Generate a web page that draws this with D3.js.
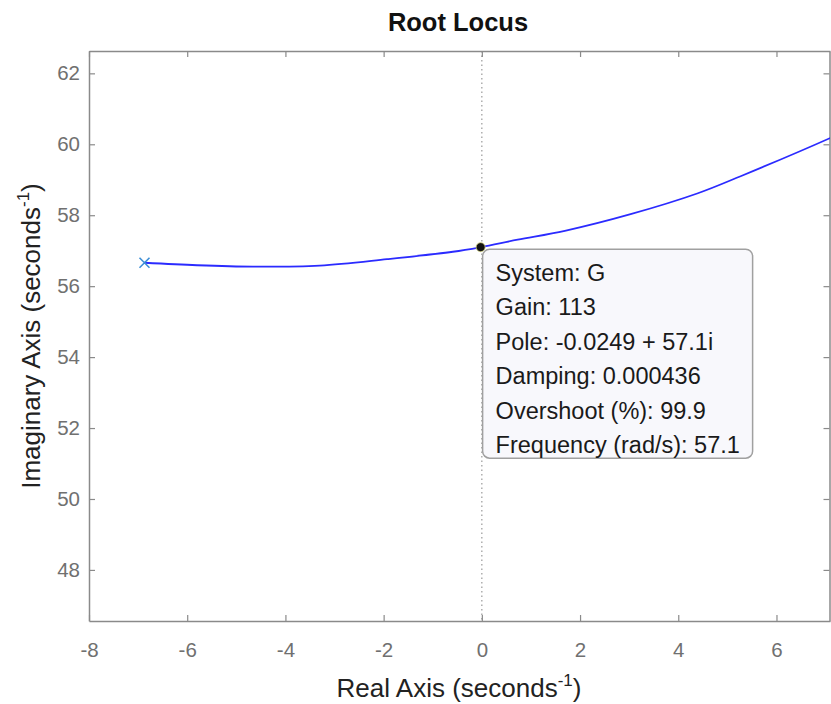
<!DOCTYPE html>
<html>
<head>
<meta charset="utf-8">
<script src="https://cdn.jsdelivr.net/npm/d3@7"></script>
<style>
  body { margin: 0; background: #fff; }
  text { font-family: "Liberation Sans", Arial, sans-serif; }
</style>
</head>
<body>
<div id="chart"></div>
<script>
// root locus branch
let locusRe = [-6.87, -5.80, -4.66, -3.30, -1.93, -0.59, -0.0249, 0.73, 1.69, 3.03, 4.40, 5.27, 7.10, 7.6]
let locusIm = [56.66, 56.59, 56.55, 56.58, 56.76, 56.97, 57.10, 57.31, 57.56, 58.03, 58.62, 59.10, 60.18, 60.5]

let poleStart = [-6.87, 56.66]
let selected = [-0.0249, 57.1]

let xTicks = [-8, -6, -4, -2, 0, 2, 4, 6]
let yTicks = [48, 50, 52, 54, 56, 58, 60, 62]

let tipLines = [
  'System: G',
  'Gain: 113',
  'Pole: -0.0249 + 57.1i',
  'Damping: 0.000436',
  'Overshoot (%): 99.9',
  'Frequency (rad/s): 57.1'
]

let width = 831
let height = 704
let margin = { top: 51, left: 89, right: 1, bottom: 83 }

let svg = d3.select('#chart')
  .append('svg')
  .attr('width', width)
  .attr('height', height)

let x = d3.scaleLinear().domain([-8, 7.09]).range([margin.left, width - margin.right])
let y = d3.scaleLinear().domain([46.56, 62.63]).range([height - margin.bottom, margin.top])

let axisColor = '#8a8a8a'
let tickColor = '#707070'
// plain hyphen for negatives, like the original
let fmt = d => String(d)

svg.append('clipPath').attr('id', 'clip')
  .append('rect')
  .attr('x', margin.left).attr('y', margin.top)
  .attr('width', width - margin.right - margin.left)
  .attr('height', height - margin.bottom - margin.top)

// dotted line on the imaginary axis
svg.append('line')
  .attr('x1', x(0)).attr('x2', x(0))
  .attr('y1', y.range()[1]).attr('y2', y.range()[0])
  .attr('stroke', '#999')
  .attr('stroke-width', 1.2)
  .attr('stroke-dasharray', '1.5,3')

// axes
let styleAxis = g => {
  g.selectAll('.domain').attr('stroke', axisColor).attr('stroke-width', 1.5)
  g.selectAll('.tick line').attr('stroke', axisColor).attr('stroke-width', 1.2)
  g.selectAll('.tick text').attr('fill', tickColor).attr('font-size', 20.5)
    .attr('font-family', '"Liberation Sans", Arial, sans-serif')
}

svg.append('g')
  .attr('transform', `translate(0,${y.range()[0]})`)
  .call(d3.axisBottom(x).tickValues(xTicks).tickSize(-6).tickSizeOuter(0).tickPadding(21).tickFormat(fmt))
  .call(styleAxis)

svg.append('g')
  .attr('transform', `translate(0,${y.range()[1]})`)
  .call(d3.axisTop(x).tickValues(xTicks).tickSize(-6).tickSizeOuter(0).tickFormat(''))
  .call(styleAxis)

svg.append('g')
  .attr('transform', `translate(${x.range()[0]},0)`)
  .call(d3.axisLeft(y).tickValues(yTicks).tickSize(-6).tickSizeOuter(0).tickPadding(9).tickFormat(fmt))
  .call(styleAxis)

svg.append('g')
  .attr('transform', `translate(${x.range()[1] - 0.5},0)`)
  .call(d3.axisRight(y).tickValues(yTicks).tickSize(-6).tickSizeOuter(0).tickFormat(''))
  .call(styleAxis)

// locus
let line = d3.line()
  .x((d, i) => x(locusRe[i]))
  .y((d, i) => y(locusIm[i]))
  .curve(d3.curveCatmullRom.alpha(0.5))

svg.append('path')
  .datum(locusRe)
  .attr('clip-path', 'url(#clip)')
  .attr('d', line)
  .attr('fill', 'none')
  .attr('stroke', '#2b2bff')
  .attr('stroke-width', 1.8)

// open-loop pole marker
let px = x(poleStart[0])
let py = y(poleStart[1])
let s = 5
svg.append('path')
  .attr('d', `M${px - s},${py - s}L${px + s},${py + s}M${px - s},${py + s}L${px + s},${py - s}`)
  .attr('stroke', '#3d8fd6')
  .attr('stroke-width', 1.6)

// data tip
let bx = x(selected[0]) + 2
let by = y(selected[1]) + 2
svg.append('rect')
  .attr('x', bx).attr('y', by)
  .attr('width', 270).attr('height', 209)
  .attr('rx', 7)
  .attr('fill', '#f8f8fc')
  .attr('stroke', '#a0a0a0')
  .attr('stroke-width', 1.5)

svg.append('g')
  .selectAll('text')
  .data(tipLines)
  .enter()
  .append('text')
  .attr('x', bx + 13)
  .attr('y', (d, i) => by + 31.5 + i * 34.5)
  .attr('font-size', 23.5)
  .attr('fill', '#1a1a1a')
  .text(d => d)

svg.append('circle')
  .attr('cx', x(selected[0]))
  .attr('cy', y(selected[1]))
  .attr('r', 4.5)
  .attr('fill', '#111')
  .attr('stroke', '#cfcf80')
  .attr('stroke-width', 0.8)

// title and axis labels
svg.append('text')
  .attr('x', 458)
  .attr('y', 31)
  .attr('text-anchor', 'middle')
  .attr('font-size', 25.5)
  .attr('font-weight', 'bold')
  .attr('fill', '#111')
  .text('Root Locus')

let xLabel = svg.append('text')
  .attr('x', 459)
  .attr('y', 697)
  .attr('text-anchor', 'middle')
  .attr('font-size', 26)
  .attr('fill', '#222')
xLabel.append('tspan').text('Real Axis (seconds')
xLabel.append('tspan').attr('dy', -11).attr('font-size', 17).text('-1')
xLabel.append('tspan').attr('dy', 11).text(')')

let yLabel = svg.append('text')
  .attr('transform', `translate(40,${(y.range()[0] + y.range()[1]) / 2}) rotate(-90)`)
  .attr('text-anchor', 'middle')
  .attr('font-size', 26)
  .attr('fill', '#222')
yLabel.append('tspan').text('Imaginary Axis (seconds')
yLabel.append('tspan').attr('dy', -11).attr('font-size', 17).text('-1')
yLabel.append('tspan').attr('dy', 11).text(')')
</script>
</body>
</html>
